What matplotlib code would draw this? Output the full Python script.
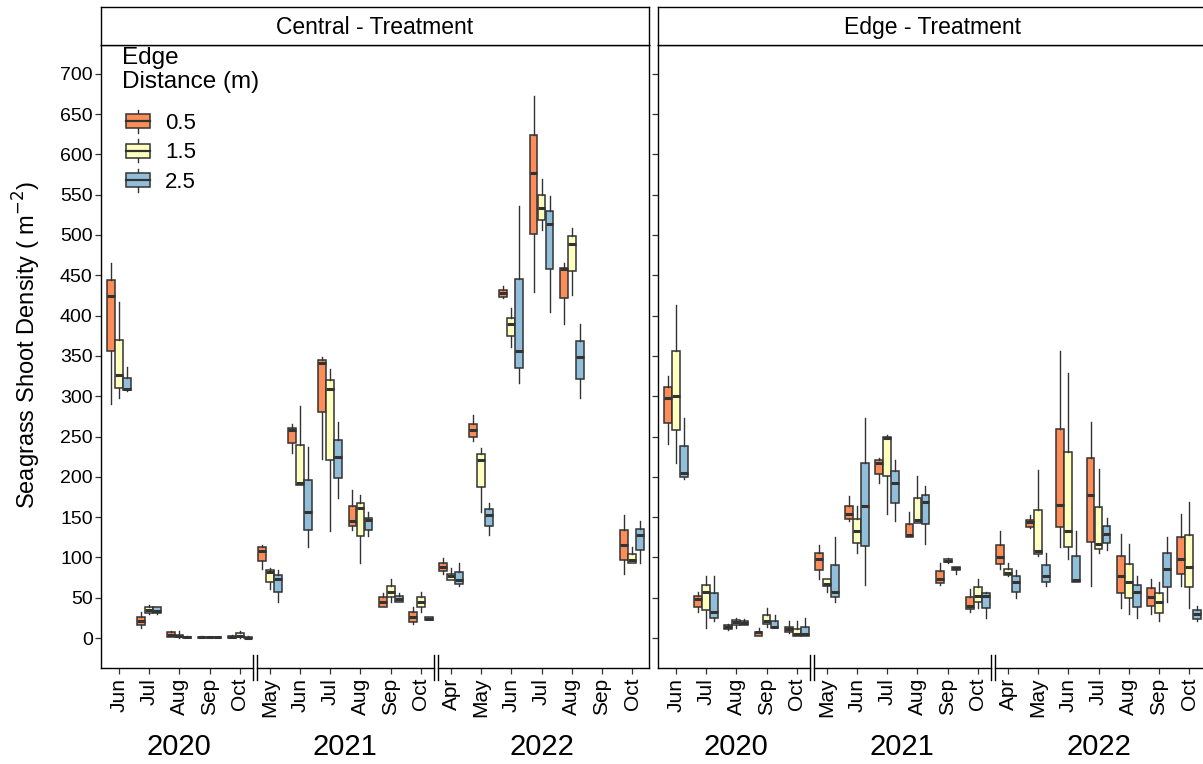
import numpy as np
import matplotlib.pyplot as plt
from matplotlib.patches import Rectangle
from matplotlib.lines import Line2D
from matplotlib.legend_handler import HandlerBase
from matplotlib.transforms import blended_transform_factory

plt.rcParams['font.family'] = ['Liberation Sans', 'DejaVu Sans']

# sampling months (three field seasons, axis broken between years)
months = ['Jun', 'Jul', 'Aug', 'Sep', 'Oct',
          'May', 'Jun', 'Jul', 'Aug', 'Sep', 'Oct',
          'Apr', 'May', 'Jun', 'Jul', 'Aug', 'Sep', 'Oct']
years = ['2020', '2021', '2022']
year_centres = [2, 7.5, 14]
year_breaks = [4.5, 10.5]

panels = ['Central - Treatment', 'Edge - Treatment']
distances = ['0.5', '1.5', '2.5']
colours = ['#FC8D59', '#FFFFBF', '#91BFDB']

# box stats per month: (whisker low, q1, median, q3, whisker high)
central_05 = [(290, 356, 424, 444, 465), (12, 16, 21, 26, 32), (1, 1, 4, 7, 9),
              (0, 0, 1, 1, 2), (0, 0.5, 1, 3, 4),
              (86, 96, 108, 113, 115), (229, 242, 258, 261, 265), (222, 280, 341, 345, 349),
              (134, 139, 145, 164, 184), (38, 39, 45, 51, 56), (17, 20, 26, 32, 39),
              (79, 83, 88, 93, 99), (244, 249, 258, 265, 277), (422, 423, 428, 432, 437),
              (429, 501, 577, 624, 672), (390, 422, 458, 459, 465), None,
              (79, 97, 115, 134, 153)]
central_15 = [(298, 310, 326, 370, 417), (30, 31, 35, 38, 41), (0, 1, 2, 4, 9),
              (0, 0, 1, 1, 1), (0, 1, 3, 6, 9),
              (61, 70, 82, 84, 87), (190, 190, 192, 239, 288), (133, 221, 309, 320, 334),
              (93, 126, 161, 168, 177), (45, 51, 57, 64, 73), (32, 38, 45, 51, 57),
              (72, 72, 77, 79, 87), (156, 187, 221, 228, 236), (361, 375, 390, 397, 409),
              (506, 518, 533, 550, 569), (425, 455, 489, 499, 509), None,
              (93, 93, 97, 104, 113)]
central_25 = [(307, 308, 309, 322, 336), (30, 31, 34, 38, 38), (0, 0, 1, 1, 3),
              (0, 0, 1, 1, 1), (0, 0, 0.5, 1, 2),
              (45, 57, 73, 78, 84), (113, 134, 156, 196, 237), (174, 199, 225, 246, 268),
              (127, 134, 146, 149, 156), (45, 45, 49, 52, 56), (22, 22, 24, 26, 26),
              (65, 67, 72, 82, 93), (128, 139, 152, 160, 168), (316, 335, 356, 445, 536),
              (404, 458, 514, 530, 548), (298, 321, 349, 368, 390), None,
              (93, 109, 128, 135, 145)]

edge_05 = [(241, 267, 298, 311, 325), (32, 39, 49, 52, 57), (10, 11, 14, 16, 17),
           (2, 2, 7, 8, 12), (6, 7, 11, 14, 21),
           (73, 84, 98, 105, 115), (145, 148, 154, 164, 176), (192, 203, 217, 221, 223),
           (125, 125, 128, 141, 156), (66, 68, 73, 83, 93), (32, 36, 40, 51, 61),
           (86, 92, 101, 115, 133), (136, 138, 144, 146, 153), (113, 138, 165, 259, 356),
           (65, 119, 177, 223, 268), (37, 56, 77, 102, 129), (30, 40, 51, 62, 73),
           (65, 79, 98, 125, 154)]
edge_15 = [(217, 258, 300, 356, 413), (12, 35, 57, 66, 77), (12, 16, 20, 22, 25),
           (14, 18, 21, 28, 37), (3, 3, 5, 11, 21),
           (57, 65, 67, 73, 73), (105, 118, 133, 148, 164), (154, 201, 248, 249, 252),
           (143, 143, 146, 174, 201), (93, 94, 96, 98, 99), (37, 45, 52, 63, 73),
           (77, 78, 81, 86, 93), (102, 104, 108, 159, 208), (98, 113, 133, 231, 329),
           (105, 110, 117, 163, 210), (30, 50, 70, 92, 117), (21, 31, 45, 56, 69),
           (37, 63, 88, 128, 169)]
edge_25 = [(197, 200, 205, 238, 273), (21, 25, 32, 56, 77), (16, 16, 19, 21, 23),
           (12, 12, 14, 21, 28), (3, 3, 5, 14, 25),
           (45, 51, 57, 91, 125), (66, 114, 164, 217, 273), (145, 168, 192, 207, 221),
           (117, 141, 169, 177, 189), (80, 84, 87, 88, 88), (25, 37, 52, 56, 57),
           (50, 57, 70, 77, 84), (65, 70, 77, 91, 105), (70, 70, 72, 102, 133),
           (109, 118, 129, 139, 149), (25, 38, 57, 66, 77), (45, 63, 86, 105, 125),
           (21, 24, 30, 35, 40)]

panel_data = [[central_05, central_15, central_25],
              [edge_05, edge_15, edge_25]]

W, H = 1203, 764
fig = plt.figure(figsize=(W / 100, H / 100), dpi=100)


def px_axes(x0, y0, x1, y1):
    return fig.add_axes([x0 / W, 1 - y1 / H, (x1 - x0) / W, (y1 - y0) / H])


class BoxKey(HandlerBase):
    def create_artists(self, legend, orig_handle, xdescent, ydescent,
                       width, height, fontsize, trans):
        x0, y0 = -xdescent, -ydescent
        cx, cy = x0 + width / 2, y0 + height / 2
        bh = height * 0.85
        whisk = Line2D([cx, cx], [y0 - height * 0.2, y0 + height * 1.2],
                       color='#333333', lw=1.0, transform=trans)
        box = Rectangle((x0, cy - bh / 2), width, bh,
                        facecolor=orig_handle.get_facecolor(),
                        edgecolor='#333333', lw=1.1, transform=trans)
        med = Line2D([x0, x0 + width], [cy, cy], color='#333333', lw=1.6,
                     transform=trans)
        return [whisk, box, med]


x = np.arange(len(months))
offsets = [-0.265, 0.0, 0.265]
xlim = (-0.596, 17.56)
gap = 0.075

ax_boxes = [(101, 649), (658, 1206)]
for p, (title, data) in enumerate(zip(panels, panel_data)):
    left, right = ax_boxes[p]
    ax = px_axes(left, 45, right, 668)

    for k, (series, col) in enumerate(zip(data, colours)):
        stats, pos = [], []
        for i, s in enumerate(series):
            if s is None:
                continue
            lo, q1, med, q3, hi = s
            stats.append(dict(whislo=lo, q1=q1, med=med, q3=q3, whishi=hi, fliers=[]))
            pos.append(x[i] + offsets[k])
        ax.bxp(stats, positions=pos, widths=0.26, patch_artist=True,
               showcaps=False, showfliers=False, manage_ticks=False,
               boxprops=dict(facecolor=col, edgecolor='#333333', linewidth=1.1),
               medianprops=dict(color='#333333', linewidth=2.2),
               whiskerprops=dict(color='#333333', linewidth=1.0))

    ax.set_xlim(*xlim)
    ax.set_ylim(-37.2, 735.7)
    ax.set_yticks(np.arange(0, 701, 50))
    ax.set_xticks(x)
    ax.set_xticklabels(months, rotation=90, fontsize=15)
    ax.tick_params(axis='x', length=4, width=0.9, color='#333333', pad=3)
    ax.tick_params(axis='y', length=4, width=0.9, color='#333333', labelsize=14, pad=2)
    if p == 1:
        ax.set_yticklabels([])
    for side in ['top', 'left', 'right']:
        ax.spines[side].set_color('black')
        ax.spines[side].set_linewidth(1.0)
    ax.spines['bottom'].set_visible(False)

    # broken bottom axis line with double marks between years
    tr = blended_transform_factory(ax.transData, ax.transAxes)
    edges = [xlim[0]]
    for b in year_breaks:
        edges += [b - gap, b + gap]
    edges.append(xlim[1])
    for a, b in zip(edges[0::2], edges[1::2]):
        ax.plot([a, b], [0, 0], color='black', lw=1.0, transform=tr, clip_on=False)
    for b in year_breaks:
        for xb in (b - gap, b + gap):
            ax.plot([xb, xb], [-12 / 623, 13 / 623], color='black', lw=1.0,
                    transform=tr, clip_on=False)

    for yr, xc in zip(years, year_centres):
        ax.text(xc, -0.127, yr, transform=tr, ha='center', va='center', fontsize=21)

    # facet strip
    strip = px_axes(left, 7, right, 45)
    strip.set_xticks([])
    strip.set_yticks([])
    for s in strip.spines.values():
        s.set_linewidth(1.0)
    strip.text(0.5, 0.45, title, ha='center', va='center', fontsize=16.5,
               transform=strip.transAxes)

    if p == 0:
        ax.text(21 / 548, (668 - 47) / 623, 'Edge\nDistance (m)', ha='left', va='top',
                multialignment='left', fontsize=17.5, linespacing=1.1,
                transform=ax.transAxes)
        handles = [Rectangle((0, 0), 1, 1, facecolor=c) for c in colours]
        ax.legend(handles, distances, handler_map={Rectangle: BoxKey()},
                  loc='upper left', bbox_to_anchor=(25 / 548, (668 - 113) / 623),
                  frameon=False, fontsize=16,
                  handlelength=1.08, handleheight=0.75, labelspacing=0.38,
                  handletextpad=0.68, borderpad=0, borderaxespad=0)

fig.text(27 / W, 1 - 345 / H, 'Seagrass Shoot Density ( m$^{-2}$)', rotation=90,
         ha='center', va='center', fontsize=17)

fig.savefig('out.png', dpi=100)
